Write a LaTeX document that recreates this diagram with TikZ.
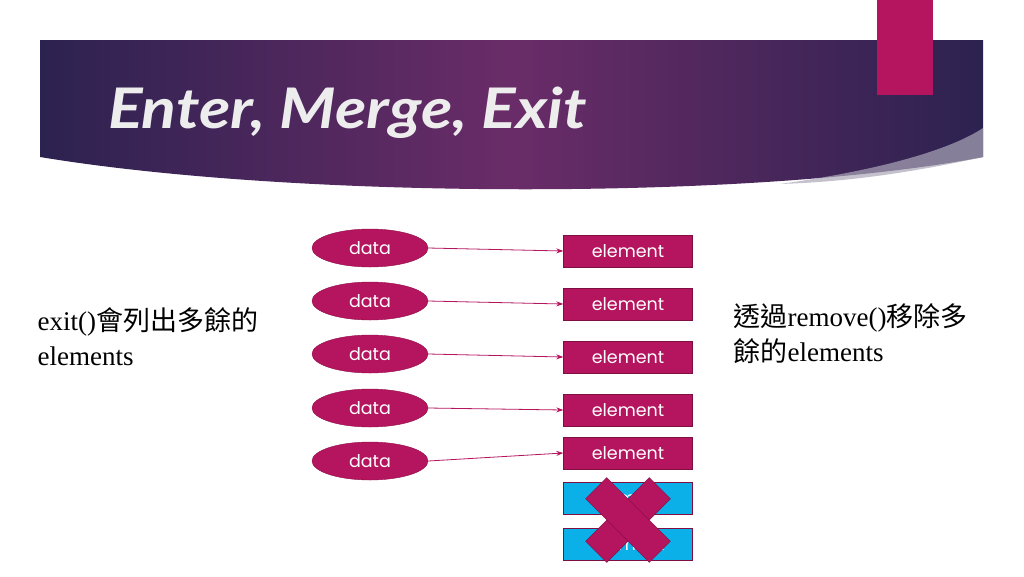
\documentclass[tikz,border=0pt]{standalone}
\usepackage{fontspec}
\setmainfont{Liberation Serif}
\newfontfamily\cjk{Noto Sans CJK TC}
\newfontfamily\ttl{Lato}
\newfontfamily\pop{Poppins}
\usetikzlibrary{shapes.geometric,arrows.meta}
\definecolor{pinkc}{HTML}{B5145E}
\definecolor{bluec}{HTML}{0BB0E8}
\definecolor{bandA}{HTML}{2C2250}
\definecolor{bandB}{HTML}{6A2C68}
\tikzset{
 dat/.style={ellipse,fill=pinkc,draw=pinkc!80!black,minimum width=116pt,minimum height=38pt,inner sep=0pt,text=white,font=\pop\fontsize{17.5}{17.5}\selectfont},
 elem/.style={rectangle,fill=pinkc,draw=pinkc!70!black,minimum width=129pt,minimum height=32pt,inner sep=0pt,text=white,font=\pop\fontsize{17.5}{17.5}\selectfont},
 elemb/.style={elem,fill=bluec,draw=pinkc!70!black},
 arr/.style={draw=pinkc,-{Stealth[length=7pt,width=5pt]},line width=0.8pt},
 txt/.style={anchor=west,font=\fontsize{27}{35}\selectfont,align=left}
}
\begin{document}
\begin{tikzpicture}[x=1pt,y=-1pt]
\useasboundingbox (0,0) rectangle (1024,576);
\fill[white] (0,0) rectangle (1024,576);
\shade[left color=bandA,right color=bandA,middle color=bandB] (40,40) -- (983,40) -- (983,157) .. controls (760,200) and (300,200) .. (40,157) -- cycle;
\fill[white!60!bandA,opacity=0.7] (780,184) .. controls (880,170) and (950,150) .. (983,128) -- (983,157) .. controls (900,175) and (840,182) .. (780,184) -- cycle;
\fill[pinkc] (877,0) rectangle (933,95);
\node[anchor=west,text=white!93!black,font=\ttl\bfseries\itshape\fontsize{56}{56}\selectfont,xscale=1.15] (title) at (104,113) {Enter, Merge, Exit};
\foreach \i/\yd/\ye in {1/248/251,2/301/304,3/354/357,4/408/410,5/461/453}{
 \node[dat] (d\i) at (370,\yd) {data};
 \node[elem] (e\i) at (628,\ye) {element};
 \draw[arr] (d\i.east) -- (e\i.west);
}
\node[elemb] (e6) at (628,498) {element};
\node[elemb] (e7) at (628,544) {element};
\fill[pinkc,draw=pinkc!70!black,rotate around={45:(628,520)}] (583,505) rectangle (673,535);
\fill[pinkc,draw=pinkc!70!black,rotate around={-45:(628,520)}] (583,505) rectangle (673,535);
\node[txt] (lt) at (34,337) {exit(){\cjk 會列出多餘的}\\elements};
\node[txt] (rt) at (730,334) {{\cjk 透過}remove(){\cjk 移除多}\\{\cjk 餘的}elements};
\end{tikzpicture}
\end{document}
